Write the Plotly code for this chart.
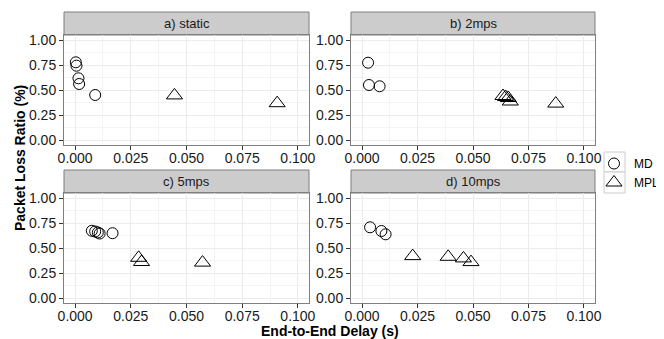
import plotly.graph_objects as go

panels = ["a) static", "b) 2mps", "c) 5mps", "d) 10mps"]

md_x = {
    "a) static": [0.0003, 0.0006, 0.0015, 0.0018, 0.0090],
    "b) 2mps": [0.0027, 0.0031, 0.0079],
    "c) 5mps": [0.0075, 0.0090, 0.0102, 0.0110, 0.0168],
    "d) 10mps": [0.0036, 0.0087, 0.0106],
}
md_y = {
    "a) static": [0.777, 0.743, 0.617, 0.560, 0.450],
    "b) 2mps": [0.773, 0.550, 0.537],
    "c) 5mps": [0.672, 0.665, 0.655, 0.645, 0.648],
    "d) 10mps": [0.707, 0.670, 0.637],
}
mpl_x = {
    "a) static": [0.0446, 0.0907],
    "b) 2mps": [0.0635, 0.0647, 0.0659, 0.0668, 0.0873],
    "c) 5mps": [0.0285, 0.0298, 0.0572],
    "d) 10mps": [0.0228, 0.0388, 0.0457, 0.0491],
}
mpl_y = {
    "a) static": [0.446, 0.368],
    "b) 2mps": [0.440, 0.430, 0.420, 0.385, 0.364],
    "c) 5mps": [0.402, 0.360, 0.354],
    "d) 10mps": [0.419, 0.412, 0.396, 0.359],
}

x_ticks = [0.0, 0.025, 0.05, 0.075, 0.1]
y_ticks = [0.0, 0.25, 0.5, 0.75, 1.0]

W, H = 664, 339
OFF = 8  # page body margin


def PX(x):
    return (x - OFF) / W


def PY(y):
    return 1 - (y - OFF) / H


col_px = [(64, 309), (351, 595)]
row_px = [(35, 145), (193, 303)]
strip_h = 23

fig = go.Figure()
FONT = "Liberation Sans, Arial, sans-serif"

for i, p in enumerate(panels):
    r, c = divmod(i, 2)
    ax = "" if i == 0 else str(i + 1)
    fig.add_trace(go.Scatter(
        x=md_x[p], y=md_y[p], mode="markers", name="MD", legendgroup="MD",
        showlegend=(i == 0), xaxis="x" + ax, yaxis="y" + ax,
        marker=dict(symbol="circle-open", size=11, color="black", line=dict(width=1, color="black")),
    ))
    fig.add_trace(go.Scatter(
        x=mpl_x[p], y=mpl_y[p], mode="markers", name="MPL", legendgroup="MPL",
        showlegend=(i == 0), xaxis="x" + ax, yaxis="y" + ax,
        marker=dict(symbol="triangle-up-open", size=14, color="black", line=dict(width=1, color="black")),
    ))
    x0, x1 = col_px[c]
    y0, y1 = row_px[r]
    common = dict(
        showline=True, mirror=True, linecolor="#7F7F7F", linewidth=1,
        showgrid=True, gridcolor="#EBEBEB", gridwidth=1,
        ticks="outside", ticklen=4, tickcolor="#333333", tickwidth=1,
        tickfont=dict(family=FONT, size=14, color="#1a1a1a"),
        zeroline=False, automargin=False,
    )
    fig.layout["xaxis" + ax] = dict(
        domain=[PX(x0), PX(x1)], anchor="y" + ax, range=[-0.005, 0.105],
        tickvals=x_ticks, tickformat=".3f", ticklabelstandoff=-4,
        minor=dict(dtick=0.0125, tick0=0.0125, showgrid=True, gridcolor="#F4F4F4", gridwidth=0.5),
        **common,
    )
    fig.layout["yaxis" + ax] = dict(
        domain=[PY(y1), PY(y0)], anchor="x" + ax, range=[-0.05, 1.05],
        tickvals=y_ticks, tickformat=".2f",
        minor=dict(dtick=0.125, tick0=0.125, showgrid=True, gridcolor="#F4F4F4", gridwidth=0.5),
        **common,
    )
    # strip
    fig.add_shape(type="rect", xref="paper", yref="paper",
                  x0=PX(x0), x1=PX(x1), y0=PY(y0), y1=PY(y0 - strip_h),
                  fillcolor="#CCCCCC", line=dict(color="#7F7F7F", width=1), layer="below")
    fig.add_annotation(x=PX((x0 + x1) / 2), y=PY(y0 - strip_h / 2), xref="paper", yref="paper",
                       xanchor="center", yanchor="middle",
                       text=p, showarrow=False, font=dict(family=FONT, size=13, color="#1a1a1a"))

# axis titles
fig.add_annotation(x=PX((64 + 595) / 2), y=PY(331), xref="paper", yref="paper",
                   xanchor="center", yanchor="middle",
                   text="<b>End-to-End Delay (s)</b>", showarrow=False,
                   font=dict(family=FONT, size=14, color="black"))
fig.add_annotation(x=PX(20), y=PY(158), xref="paper", yref="paper",
                   xanchor="center", yanchor="middle",
                   text="<b>Packet Loss Ratio (%)</b>", showarrow=False, textangle=-90,
                   font=dict(family=FONT, size=14, color="black"))

# legend key boxes
for (ky0, ky1) in [(152, 172), (172, 193)]:
    fig.add_shape(type="rect", xref="paper", yref="paper",
                  x0=PX(604), x1=PX(625), y0=PY(ky1), y1=PY(ky0),
                  fillcolor="white", line=dict(color="#CCCCCC", width=1), layer="below")

fig.update_layout(
    width=W, height=H, margin=dict(l=0, r=0, t=0, b=0, autoexpand=False),
    paper_bgcolor="white", plot_bgcolor="white",
    showlegend=True,
    legend=dict(x=PX(594), y=PY(149), xanchor="left", yanchor="top",
                bgcolor="rgba(0,0,0,0)", font=dict(family=FONT, size=12, color="black"),
                tracegroupgap=0, itemwidth=30),
)

fig.write_html("out.html")
